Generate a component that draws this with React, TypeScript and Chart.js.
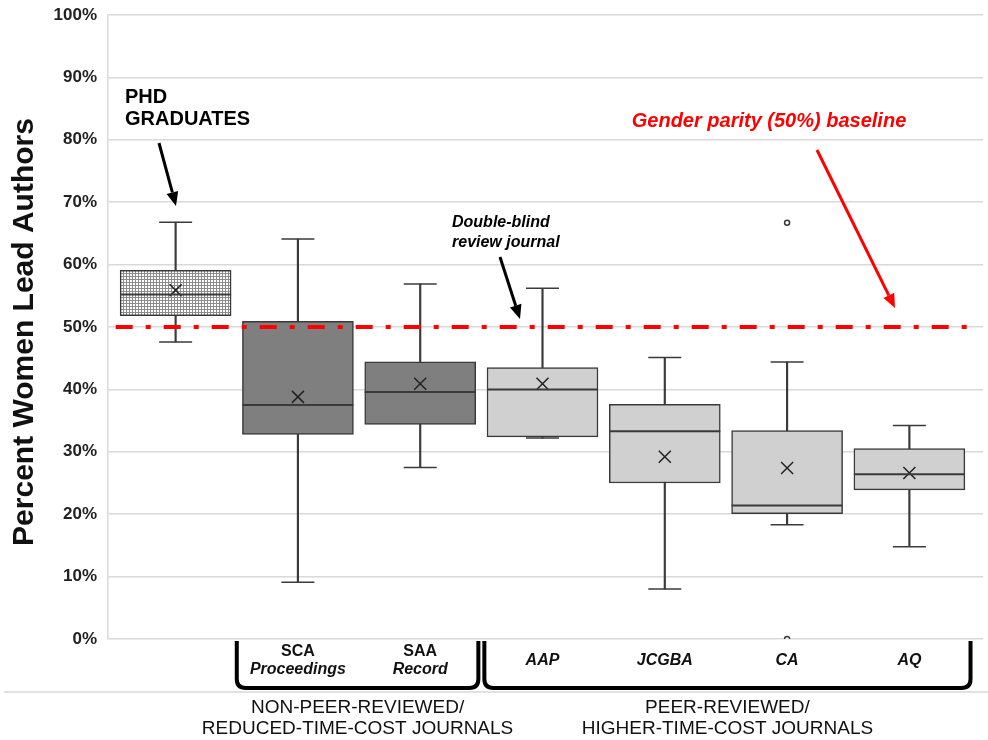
import React, { useEffect, useRef } from 'react';
import { Chart, registerables } from 'chart.js';

Chart.register(...registerables);

// ---- data ----
const categories = ['PHD GRADUATES', 'SCA Proceedings', 'SAA Record', 'AAP', 'JCGBA', 'CA', 'AQ'];
const labelLine1 = ['', 'SCA', 'SAA', '', '', '', ''];
const labelLine2 = ['', 'Proceedings', 'Record', 'AAP', 'JCGBA', 'CA', 'AQ'];
const whiskerLow = [47.6, 9.1, 27.5, 32.2, 8.0, 18.3, 14.8];
const q1 = [51.8, 32.8, 34.4, 32.4, 25.0, 20.1, 23.9];
const median = [55.2, 37.5, 39.6, 40.0, 33.3, 21.4, 26.4];
const q3 = [59.1, 50.9, 44.4, 43.5, 37.6, 33.4, 30.5];
const whiskerHigh = [66.8, 64.1, 56.9, 56.2, 45.1, 44.4, 34.2];
const mean = [55.9, 38.8, 40.9, 40.9, 29.2, 27.4, 26.6];
const outlierCategory = [5, 5];
const outlierValue = [66.7, 0];
const parityValue = 50;
const parityExtent = [-0.49, 6.54];
const boxKind = ['phd', 'nonpeer', 'nonpeer', 'peer', 'peer', 'peer', 'peer'];
const groupNames = [
  ['NON-PEER-REVIEWED/', 'REDUCED-TIME-COST JOURNALS'],
  ['PEER-REVIEWED/', 'HIGHER-TIME-COST JOURNALS'],
];
const groupStart = [0.5, 2.5];
const groupEnd = [2.5, 6.5];
const yTickStep = 10;

const FONT = '"Liberation Sans", Arial, Helvetica, sans-serif';
const STROKE = '#3a3a3a';

function drawArrow(ctx: CanvasRenderingContext2D, x0: number, y0: number, x1: number, y1: number, color: string, w: number) {
  const ang = Math.atan2(y1 - y0, x1 - x0);
  const headLen = 14;
  const headW = 6;
  const bx = x1 - headLen * Math.cos(ang);
  const by = y1 - headLen * Math.sin(ang);
  ctx.save();
  ctx.strokeStyle = color;
  ctx.fillStyle = color;
  ctx.lineWidth = w;
  ctx.beginPath();
  ctx.moveTo(x0, y0);
  ctx.lineTo(bx, by);
  ctx.stroke();
  ctx.beginPath();
  ctx.moveTo(x1, y1);
  ctx.lineTo(bx + headW * Math.sin(ang), by - headW * Math.cos(ang));
  ctx.lineTo(bx - headW * Math.sin(ang), by + headW * Math.cos(ang));
  ctx.closePath();
  ctx.fill();
  ctx.restore();
}

const annotationPlugin = {
  id: 'annotations',
  afterDraw(chart: any) {
    const { ctx } = chart;
    const xs = chart.scales.x;
    const ys = chart.scales.y;
    ctx.save();

    // y-axis title
    ctx.save();
    ctx.translate(33, 332);
    ctx.rotate(-Math.PI / 2);
    ctx.font = `bold 30px ${FONT}`;
    ctx.fillStyle = '#111';
    ctx.textAlign = 'center';
    ctx.textBaseline = 'alphabetic';
    ctx.fillText('Percent Women Lead Authors', 0, 0);
    ctx.restore();

    // bottom separator line
    const baseY = ys.getPixelForValue(0);
    ctx.strokeStyle = '#d9d9d9';
    ctx.lineWidth = 1.5;
    ctx.beginPath();
    ctx.moveTo(4, baseY + 53);
    ctx.lineTo(988, baseY + 53);
    ctx.stroke();

    // category labels
    ctx.fillStyle = '#111';
    ctx.textAlign = 'center';
    ctx.textBaseline = 'middle';
    categories.forEach((_, i) => {
      const x = xs.getPixelForValue(i);
      if (labelLine1[i]) {
        ctx.font = `bold 16px ${FONT}`;
        ctx.fillText(labelLine1[i], x, baseY + 13);
        ctx.font = `italic bold 16px ${FONT}`;
        ctx.fillText(labelLine2[i], x, baseY + 31);
      } else if (labelLine2[i]) {
        ctx.font = `italic bold 16px ${FONT}`;
        ctx.fillText(labelLine2[i], x, baseY + 22);
      }
    });

    // brackets
    ctx.strokeStyle = '#000';
    ctx.lineWidth = 4;
    ctx.lineJoin = 'round';
    const top = baseY + 2;
    const bot = baseY + 49;
    const r = 9;
    groupNames.forEach((lines, g) => {
      const x0 = xs.getPixelForValue(groupStart[g]) + (g === 0 ? 0 : 3);
      const x1 = xs.getPixelForValue(groupEnd[g]) - (g === 0 ? 3 : 0);
      ctx.beginPath();
      ctx.moveTo(x0, top);
      ctx.lineTo(x0, bot - r);
      ctx.quadraticCurveTo(x0, bot, x0 + r, bot);
      ctx.lineTo(x1 - r, bot);
      ctx.quadraticCurveTo(x1, bot, x1, bot - r);
      ctx.lineTo(x1, top);
      ctx.stroke();
      const cx = (x0 + x1) / 2;
      ctx.font = `19px ${FONT}`;
      ctx.fillStyle = '#111';
      ctx.textAlign = 'center';
      ctx.textBaseline = 'middle';
      ctx.fillText(lines[0], cx, baseY + 69);
      ctx.fillText(lines[1], cx, baseY + 90);
    });

    // annotations
    ctx.textAlign = 'left';
    ctx.textBaseline = 'middle';
    ctx.fillStyle = '#000';
    ctx.font = `bold 20px ${FONT}`;
    ctx.fillText('PHD', 125, 97);
    ctx.fillText('GRADUATES', 125, 119);
    drawArrow(ctx, 159, 143, 176, 206, '#000', 3);

    ctx.font = `italic bold 16px ${FONT}`;
    ctx.fillText('Double-blind', 452, 223);
    ctx.fillText('review journal', 452, 243);
    drawArrow(ctx, 500, 257, 520, 319, '#000', 3);

    ctx.fillStyle = '#ff0000';
    ctx.font = `italic bold 20px ${FONT}`;
    ctx.textAlign = 'center';
    ctx.fillText('Gender parity (50%) baseline', 769, 121);
    drawArrow(ctx, 817, 150, 895, 308, '#ff0000', 3);

    ctx.restore();
  },
};

export default function App() {
  const ref = useRef<HTMLCanvasElement | null>(null);

  useEffect(() => {
    const canvas = ref.current!;
    const ctx = canvas.getContext('2d')!;

    const pc = document.createElement('canvas');
    pc.width = 3;
    pc.height = 3;
    const pg = pc.getContext('2d')!;
    pg.fillStyle = '#ffffff';
    pg.fillRect(0, 0, 3, 3);
    pg.fillStyle = '#8c8c8c';
    pg.fillRect(0, 0, 3, 1);
    pg.fillRect(0, 0, 1, 3);
    const pattern = ctx.createPattern(pc, 'repeat')!;

    const fills: any[] = boxKind.map((k) => (k === 'phd' ? pattern : k === 'nonpeer' ? '#7f7f7f' : '#d0d0d0'));

    const chart = new Chart(ctx, {
      type: 'bar',
      data: {
        datasets: [
          {
            type: 'bar',
            label: 'whiskers',
            data: categories.map((_, i) => ({ x: i, y: [whiskerLow[i], whiskerHigh[i]] })) as any,
            backgroundColor: STROKE,
            barThickness: 1.5,
            grouped: false,
            order: 6,
          } as any,
          {
            type: 'scatter',
            label: 'caps',
            data: [
              ...categories.map((_, i) => ({ x: i, y: whiskerLow[i] })),
              ...categories.map((_, i) => ({ x: i, y: whiskerHigh[i] })),
            ],
            pointStyle: 'line',
            pointRadius: 16.5,
            borderColor: STROKE,
            borderWidth: 1.5,
            order: 5,
          } as any,
          {
            type: 'bar',
            label: 'boxes',
            data: categories.map((_, i) => ({ x: i, y: [q1[i], q3[i]] })) as any,
            backgroundColor: fills,
            borderColor: STROKE,
            borderWidth: 1.5,
            borderSkipped: false,
            barThickness: 111,
            grouped: false,
            order: 4,
          } as any,
          {
            type: 'scatter',
            label: 'median',
            data: categories.map((_, i) => ({ x: i, y: median[i] })),
            pointStyle: 'line',
            pointRadius: 55.5,
            borderColor: STROKE,
            borderWidth: 2,
            order: 3,
          } as any,
          {
            type: 'scatter',
            label: 'mean',
            data: categories.map((_, i) => ({ x: i, y: mean[i] })),
            pointStyle: 'crossRot',
            pointRadius: 8.5,
            borderColor: '#222',
            borderWidth: 1.5,
            order: 3,
          } as any,
          {
            type: 'scatter',
            label: 'outliers',
            data: outlierCategory.map((c, i) => ({ x: c, y: outlierValue[i] })),
            pointStyle: 'circle',
            pointRadius: 2.5,
            backgroundColor: '#ffffff',
            borderColor: STROKE,
            borderWidth: 1.5,
            order: 3,
          } as any,
          {
            type: 'line',
            label: 'parity',
            data: parityExtent.map((x) => ({ x, y: parityValue })),
            borderColor: '#ff0000',
            borderWidth: 4,
            borderDash: [17, 13, 5, 13],
            pointRadius: 0,
            fill: false,
            order: 1,
          } as any,
        ],
      },
      options: {
        responsive: false,
        animation: false,
        devicePixelRatio: 1,
        layout: { autoPadding: false, padding: { left: 0, right: 5, top: 15, bottom: 101 } },
        plugins: { legend: { display: false }, tooltip: { enabled: false } },
        scales: {
          x: {
            type: 'linear',
            min: -0.553,
            max: 6.602,
            offset: false,
            display: false,
          },
          y: {
            min: 0,
            max: 100,
            ticks: {
              stepSize: yTickStep,
              callback: (v: any) => `${v}%`,
              font: { family: FONT, size: 17, weight: 'bold' },
              color: '#222',
              padding: 11,
            },
            grid: { color: '#d9d9d9', lineWidth: 1.5, drawTicks: false },
            border: { color: '#d9d9d9', width: 1.5 },
            afterFit: (s: any) => {
              s.width = 108;
              s.paddingTop = 0;
              s.paddingBottom = 0;
            },
          } as any,
        },
      },
      plugins: [annotationPlugin],
    } as any);

    return () => chart.destroy();
  }, []);

  return (
    <canvas
      ref={ref}
      width={988}
      height={740}
      style={{ position: 'absolute', left: 0, top: 0, width: 988, height: 740, background: '#fff' }}
    />
  );
}
